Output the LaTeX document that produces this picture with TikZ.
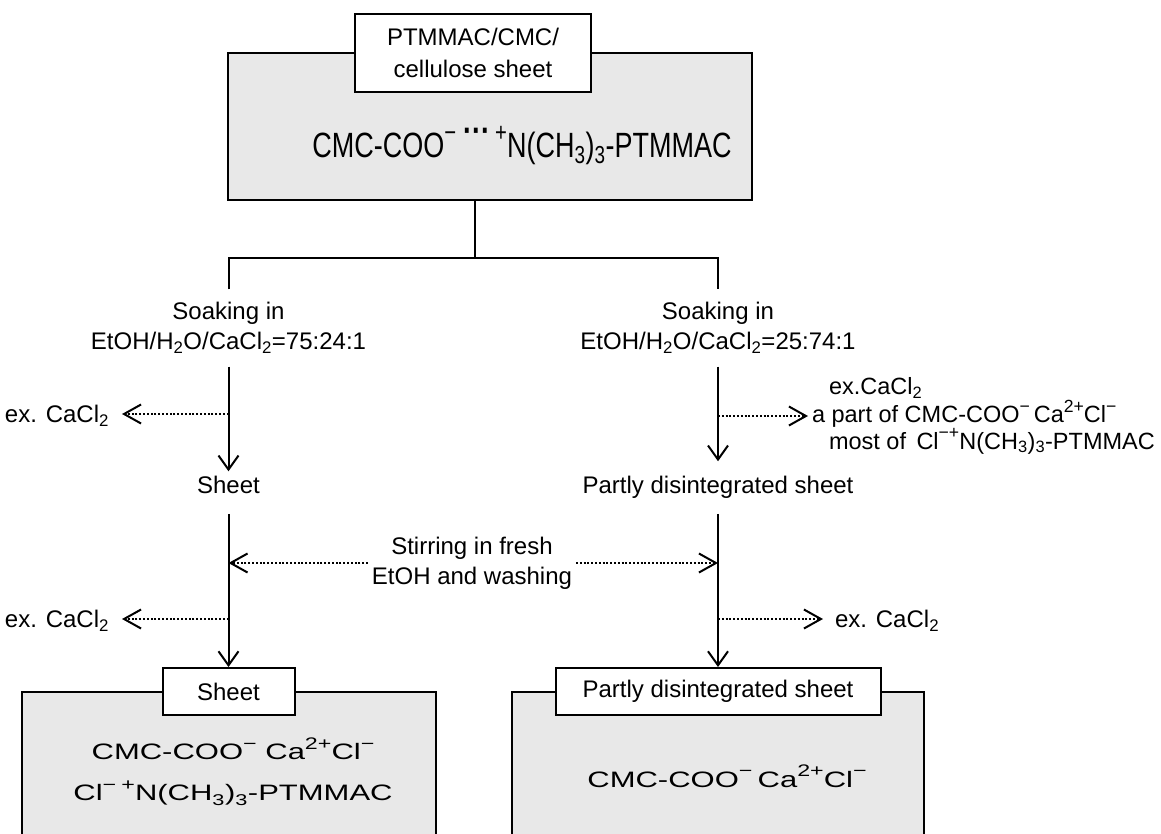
\documentclass[tikz,border=0pt]{standalone}
\usepackage{fontspec}
\setmainfont{Liberation Sans}
\usetikzlibrary{arrows.meta}

\begin{document}
\begin{tikzpicture}[
      x=1pt,y=-1pt,line width=2pt,
      txt/.style  ={font=\fontsize{24}{30}\selectfont,align=center,inner xsep=3pt,inner ysep=0pt},
      panel/.style={draw,fill=gray!18,line width=2.2pt},
      tag/.style  ={draw,fill=white,font=\fontsize{24}{32}\selectfont,align=center,inner sep=0pt},
      flow/.style ={-{Straight Barb[length=14pt,width=20pt]}},
      side/.style ={line width=2.2pt,dash pattern=on 2pt off 1.8pt,-{Straight Barb[length=17pt,width=19pt,line width=2pt]}}]
      % Macros: raised charge, lowered index
      \newcommand{\chg}[1]{\raisebox{.45em}{\scalebox{.75}{#1}}}
      \newcommand{\idx}[1]{\textsubscript{#1}}
      \clip (0,0) rectangle (1161,833);

      % Starting sheet
      \node[panel,minimum width=524pt,minimum height=147pt] (topbox) at (490,126.5) {};
      \node[tag,minimum width=236pt,minimum height=78pt] (toptag) at (473,53) {PTMMAC/CMC/\\cellulose sheet};
      \node[font=\fontsize{27}{32}\selectfont,anchor=base] (topchem) at (522,157)
            {\scalebox{1}[1.3]{CMC-COO\chg{−}\;\raisebox{.42em}{\textbf{···}}\,\chg{+}N(CH\idx{3})\idx{3}-PTMMAC}};

      % Fork
      \coordinate (fork)  at (475,258);
      \coordinate (forkL) at (228.5,258);
      \coordinate (forkR) at (718,258);

      % Left route
      \node[txt,inner ysep=12pt] (soakL) at (228.5,328) {Soaking in\\EtOH/H\idx{2}O/CaCl\idx{2}=75:24:1};
      \node[txt,text height=17.5pt,text depth=5pt,inner ysep=3.5pt] (sheetL) at (228.5,487) {Sheet};
      \node[txt,anchor=east,text depth=0pt] (exL1) at (113,414) {ex. CaCl\idx{2}};
      \node[txt,anchor=east,text depth=0pt] (exL2) at (113,619) {ex. CaCl\idx{2}};

      % Right route
      \node[txt,inner ysep=12pt] (soakR) at (718,328) {Soaking in\\EtOH/H\idx{2}O/CaCl\idx{2}=25:74:1};
      \node[txt,text height=17.5pt,text depth=5pt,inner ysep=3.5pt] (sheetR) at (718,487) {Partly disintegrated sheet};
      \node[txt,anchor=west,align=left,font=\fontsize{23.5}{23}\selectfont,inner xsep=0pt] (exR1) at (811,416)
            {\hspace*{17pt}ex.CaCl\idx{2}\\a part of CMC-COO\chg{−}\,Ca\chg{2+}Cl\chg{−}\\\hspace*{17pt}most of \,Cl\chg{−}\chg{+}N(CH\idx{3})\idx{3}-PTMMAC};
      \node[txt,anchor=west,text depth=0pt,inner xsep=0pt] (exR2) at (834,619) {ex. CaCl\idx{2}};

      % Washing
      \node[txt] (stir) at (472,563) {Stirring in fresh\\EtOH and washing};

      % Final sheets
      \node[panel,minimum width=414pt,minimum height=168pt] (panelL) at (229,776) {};
      \node[panel,minimum width=412pt,minimum height=168pt] (panelR) at (718,776) {};
      \node[tag,minimum width=132pt,minimum height=47pt] (tagL) at (228.5,691.5) {Sheet};
      \node[tag,minimum width=325pt,minimum height=47pt] (tagR) at (718,691.5) {Partly disintegrated sheet};
      \node[font=\fontsize{31}{41}\selectfont,align=center] (chemL) at (233,772)
            {\scalebox{1}[.72]{CMC-COO\chg{−} Ca\chg{2+}Cl\chg{−}}\\\scalebox{1}[.72]{Cl\chg{−}\,\chg{+}N(CH\idx{3})\idx{3}-PTMMAC}};
      \node[font=\fontsize{31}{41}\selectfont,anchor=base] (chemR) at (727,787)
            {\scalebox{1}[.72]{CMC-COO\chg{−}\,Ca\chg{2+}Cl\chg{−}}};

      % Connectors
      \draw (fork |- topbox.south) -- (fork);
      \draw (forkL |- soakL.north) -- (forkL) -- (forkR) -- (forkR |- soakR.north);
      \draw[flow] (soakL) -- (sheetL);
      \draw[flow,shorten >=10pt] (soakR) -- (sheetR);
      \draw[flow,shorten <=11pt] (sheetL) -- (tagL);
      \draw[flow,shorten <=11pt] (sheetR) -- (tagR);
      \draw[side,shorten >=9pt] (forkL |- exL1) -- (exL1.east);
      \draw[side,shorten >=9pt] (forkL |- exL2) -- (exL2.east);
      \draw[side,shorten >=3pt] (forkR |- exR1) -- (exR1.west);
      \draw[side,shorten >=11pt] (forkR |- exR2) -- (exR2.west);
      \draw[side] (stir.west) -- (stir.west -| forkL);
      \draw[side] (stir.east) -- (stir.east -| forkR);
\end{tikzpicture}
\end{document}
